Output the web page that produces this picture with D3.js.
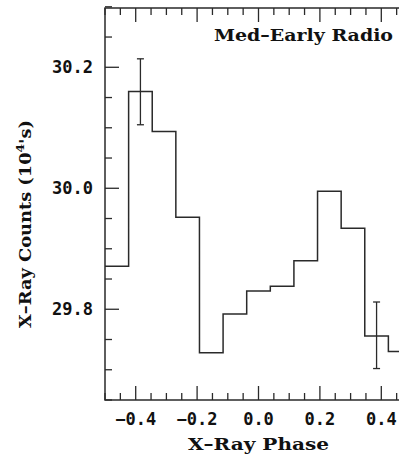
<!DOCTYPE html>
<html>
<head>
<meta charset="utf-8">
<script src="https://cdn.jsdelivr.net/npm/d3@7"></script>
<style>
  html, body { margin: 0; padding: 0; background: #fff; }
  svg { display: block; }
</style>
</head>
<body>
<script>
// ---- data ----
const binCenters = [-0.4615, -0.3846, -0.3077, -0.2308, -0.1538, -0.0769, 0.0, 0.0769, 0.1538, 0.2308, 0.3077, 0.3846, 0.4615];
const binWidth = 0.0769;
const counts = [29.871, 30.160, 30.094, 29.952, 29.728, 29.792, 29.830, 29.838, 29.880, 29.995, 29.934, 29.756, 29.730];
const errPhase = [-0.3846, 0.3846];
const errLow = [30.105, 29.702];
const errHigh = [30.214, 29.812];
const xMajorTicks = [-0.4, -0.2, 0.0, 0.2, 0.4];
const xTickLabels = ["\u22120.4", "\u22120.2", "0.0", "0.2", "0.4"];
const yMajorTicks = [29.8, 30.0, 30.2];
const yTickLabels = ["29.8", "30.0", "30.2"];
const xMinorStep = 0.05;
const yMinorStep = 0.05;
const title = "Med\u2013Early Radio";
const xLabel = "X\u2013Ray Phase";

(function () {
// ---- layout ----
const W = 399, H = 456;
const pL = 105, pR = 412, pT = 8, pB = 400;
const ink = "#2a2a2a";

const svg = d3.select("body").append("svg").attr("width", W).attr("height", H);

const x = d3.scaleLinear().domain([-0.5, 0.5]).range([pL, pR]);
const y = d3.scaleLinear().domain([29.65, 30.298]).range([pB, pT]);

const xMinor = d3.range(-0.5, 0.5001, xMinorStep).filter(v => !xMajorTicks.some(m => Math.abs(m - v) < 1e-6));
const yMinor = d3.range(29.65, 30.30, yMinorStep).filter(v => !yMajorTicks.some(m => Math.abs(m - v) < 1e-6));

const g = svg.append("g").attr("stroke", ink).attr("fill", "none");

// frame
g.append("path")
  .attr("d", `M${pR},${pT}H${pL}V${pB}H${pR}Z`)
  .attr("stroke-width", 1.5);

const MAJ = 14, MIN = 7;
xMajorTicks.forEach(v => {
  g.append("line").attr("x1", x(v)).attr("x2", x(v)).attr("y1", pB).attr("y2", pB - MAJ).attr("stroke-width", 1.3);
  g.append("line").attr("x1", x(v)).attr("x2", x(v)).attr("y1", pT).attr("y2", pT + MAJ).attr("stroke-width", 1.3);
});
xMinor.forEach(v => {
  g.append("line").attr("x1", x(v)).attr("x2", x(v)).attr("y1", pB).attr("y2", pB - MIN).attr("stroke-width", 1.3);
  g.append("line").attr("x1", x(v)).attr("x2", x(v)).attr("y1", pT).attr("y2", pT + MIN).attr("stroke-width", 1.3);
});
yMajorTicks.forEach(v => {
  g.append("line").attr("x1", pL).attr("x2", pL + MAJ).attr("y1", y(v)).attr("y2", y(v)).attr("stroke-width", 1.3);
});
yMinor.forEach(v => {
  g.append("line").attr("x1", pL).attr("x2", pL + MIN).attr("y1", y(v)).attr("y2", y(v)).attr("stroke-width", 1.3);
});

// tick labels
const tickFont = "'DejaVu Sans Mono', monospace";
svg.append("g").selectAll("text").data(xMajorTicks).join("text")
  .attr("x", d => x(d)).attr("y", 425)
  .attr("text-anchor", "middle")
  .attr("font-family", tickFont).attr("font-weight", "bold").attr("font-size", 17)
  .attr("fill", "#111")
  .text((d, i) => xTickLabels[i]);

svg.append("g").selectAll("text").data(yMajorTicks).join("text")
  .attr("x", 93).attr("y", d => y(d) + 6)
  .attr("text-anchor", "end")
  .attr("font-family", tickFont).attr("font-weight", "bold").attr("font-size", 17)
  .attr("fill", "#111")
  .text((d, i) => yTickLabels[i]);

// histogram step line
const pts = [];
binCenters.forEach((c, i) => {
  pts.push([c - binWidth / 2, counts[i]]);
  pts.push([c + binWidth / 2, counts[i]]);
});
const line = d3.line().x(d => x(d[0])).y(d => y(d[1]));
svg.append("path").datum(pts)
  .attr("d", line)
  .attr("fill", "none").attr("stroke", ink).attr("stroke-width", 1.5);

// error bars
errPhase.forEach((p, i) => {
  const eg = svg.append("g").attr("stroke", ink).attr("stroke-width", 1.3);
  eg.append("line").attr("x1", x(p)).attr("x2", x(p)).attr("y1", y(errLow[i])).attr("y2", y(errHigh[i]));
  eg.append("line").attr("x1", x(p) - 3.5).attr("x2", x(p) + 3.5).attr("y1", y(errLow[i])).attr("y2", y(errLow[i]));
  eg.append("line").attr("x1", x(p) - 3.5).attr("x2", x(p) + 3.5).attr("y1", y(errHigh[i])).attr("y2", y(errHigh[i]));
});

// title
const labFont = "'DejaVu Serif', 'Liberation Serif', serif";
svg.append("text")
  .attr("x", 214).attr("y", 41)
  .attr("font-family", labFont).attr("font-weight", "bold").attr("font-size", 17)
  .attr("textLength", 179).attr("lengthAdjust", "spacingAndGlyphs")
  .attr("fill", "#111")
  .text(title);

// x label
svg.append("text")
  .attr("x", 188).attr("y", 450)
  .attr("font-family", labFont).attr("font-weight", "bold").attr("font-size", 17)
  .attr("textLength", 141).attr("lengthAdjust", "spacingAndGlyphs")
  .attr("fill", "#111")
  .text(xLabel);

// y label
const yl = svg.append("text")
  .attr("transform", "translate(31,328) rotate(-90)")
  .attr("font-family", labFont).attr("font-weight", "bold").attr("font-size", 16)
  .attr("textLength", 208).attr("lengthAdjust", "spacingAndGlyphs")
  .attr("fill", "#111");
yl.append("tspan").text("X\u2013Ray Counts (10");
yl.append("tspan").attr("font-size", 11).attr("dy", -7).text("4");
yl.append("tspan").attr("dy", 7).text("'s)");
})();
</script>
</body>
</html>
